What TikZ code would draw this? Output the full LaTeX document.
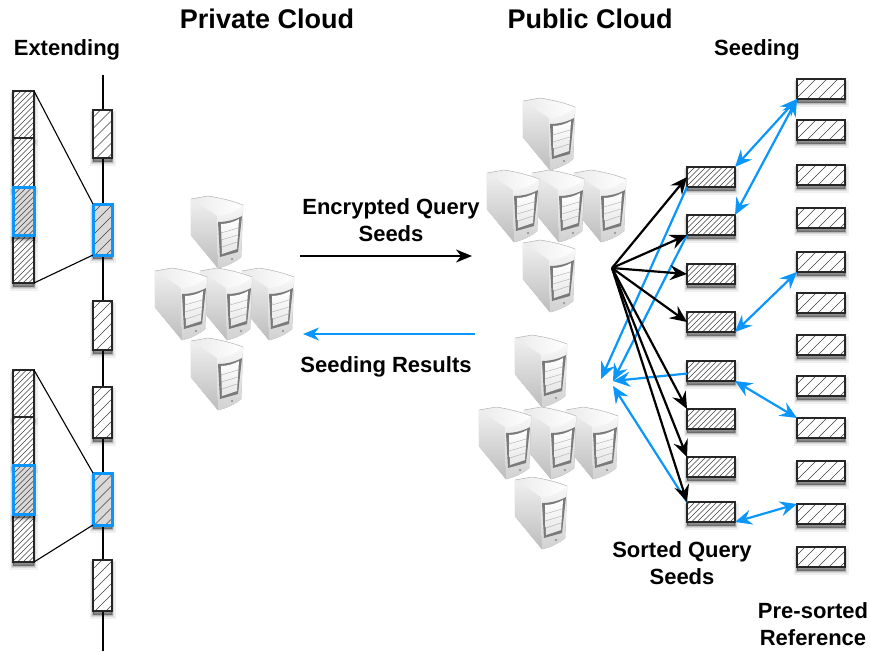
\documentclass[tikz,border=0pt]{standalone}
\usepackage{fontspec}
\setmainfont{Liberation Sans}
\usetikzlibrary{arrows.meta}
\definecolor{bluea}{RGB}{10,150,250}
\tikzset{
  x=1pt,y=-1pt,
  softshadow/.style={
    preaction={draw=black,fill=black,line width=7pt,opacity=.06,transform canvas={yshift=-4pt}},
    preaction={draw=black,fill=black,line width=4.5pt,opacity=.1,transform canvas={yshift=-4pt}},
    preaction={draw=black,fill=black,line width=2.5pt,opacity=.14,transform canvas={yshift=-4pt}},
    preaction={draw=black,fill=black,line width=.5pt,opacity=.18,transform canvas={yshift=-3pt}}},
  hatch/.style={path picture={
    \foreach \d in {-400,-#1,...,400}
      \draw[black!75,line width=.65pt,shift={(path picture bounding box.center)}] (\d pt-250pt,-250pt) -- ++(500pt,500pt);}},
  cell/.style={draw=black!85,line width=1.3pt,inner sep=0pt,outer sep=0pt,anchor=north west,softshadow},
  qbox/.style={cell,fill=white,minimum width=48pt,minimum height=20pt,hatch=394.5},
  rbox/.style={cell,fill=white,minimum width=48pt,minimum height=20pt,hatch=389},
  ebox/.style={cell,fill=white,minimum width=19pt,hatch=389},
  bar/.style={cell,fill=white,minimum width=21pt,hatch=394.5},
  hl/.style={draw=bluea,line width=3pt},
  ln/.style={black,line width=1.1pt},
  tip/.style={-{Stealth[length=17pt,width=15pt,inset=6pt]}},
  barrow/.style={black,line width=2.2pt,tip},
  bluearrow/.style={bluea,line width=2.2pt,tip},
  bluedouble/.style={bluea,line width=2.2pt,{Stealth[length=17pt,width=15pt,inset=6pt]}-{Stealth[length=17pt,width=15pt,inset=6pt]}},
  lab/.style={font=\fontsize{22}{27}\selectfont\bfseries,align=center,inner sep=0pt},
  title/.style={font=\fontsize{27}{30}\selectfont\bfseries,inner sep=0pt},
  server/.pic={
    % body outline and top face
    \shade[left color=black!8,right color=white,draw=black!30,line width=.5pt]
      (0,3) -- (17,0) .. controls (30,2) and (42,5) .. (52,9)
      -- (50,61) .. controls (44,66) and (36,70) .. (27,72) -- (0,39) -- cycle;
    % left face
    \shade[top color=black!6,bottom color=black!26] (0,3) -- (26,20) -- (27,72) -- (0,39) -- cycle;
    % front face
    \shade[top color=black!3,bottom color=black!18] (26,20) .. controls (36,20) and (46,15) .. (52,9)
      -- (50,61) .. controls (44,66) and (36,70) .. (27,72) -- cycle;
    % bezel and screen
    \fill[black!52] (27,26) .. controls (35,26) and (44,24) .. (51,20) -- (47,56) -- (29,61) -- cycle;
    \shade[top color=white,bottom color=black!10] (30,28) .. controls (36,28) and (43,26) .. (48,23) -- (46,53) -- (31,58) -- cycle;
    \draw[black!28,line width=.5pt] (30,37) -- (47,32) (30,44) -- (47,39) (31,51) -- (46,46);
    \fill[black!45] (41,63) circle (1.2);
  }
}
\newcommand{\cluster}[2]{%
  \path (#1+36,#2) pic {server};
  \path (#1+87,#2+72) pic {server};
  \path (#1+45,#2+72) pic {server};
  \path (#1,#2+72) pic {server};
  \path (#1+36,#2+142) pic {server};
}
\begin{document}
\begin{tikzpicture}
\useasboundingbox (0,0) rectangle (870,651);
% titles
\node[title] (tpriv) at (267,19) {Private Cloud};
\node[title] (tpub) at (590,19) {Public Cloud};
\node[lab] (text) at (67,50) {Extending};
\node[lab] (tseed) at (757,50) {Seeding};
\node[lab] (tenc) at (391,220) {Encrypted Query\\Seeds};
\node[lab] (tres) at (386,367) {Seeding Results};
\node[lab] (tsort) at (682,563.5) {Sorted Query\\Seeds};
\node[lab] (tref) at (813,624.5) {Pre-sorted\\Reference};
% extending: spine
\coordinate (s0) at (103,75);
\coordinate (s1) at (103,651);
\draw[ln] (s0) -- (s1);
\node[ebox,minimum height=48pt] (a1) at (93,110) {};
\node[ebox,fill=black!15,hl,minimum height=51pt] (a2) at (93,204) {};
\node[ebox,minimum height=49pt] (a3) at (93,301) {};
\node[ebox,minimum height=51pt] (a4) at (93,387) {};
\node[ebox,fill=black!15,hl,minimum height=52pt] (a5) at (93,473) {};
\node[ebox,minimum height=51pt] (a6) at (93,560) {};
% left bars
\node[bar,minimum height=47pt] (b1) at (13,91) {};
\node[bar,minimum height=49pt] (b2) at (13,138) {};
\node[bar,minimum height=48pt] (b4) at (13,235) {};
\node[bar,fill=black!15,hl,minimum height=48pt] (b3) at (13,187) {};
\node[bar,minimum height=47pt] (c1) at (13,370) {};
\node[bar,minimum height=48pt] (c2) at (13,417) {};
\node[bar,minimum height=48pt] (c4) at (13,514) {};
\node[bar,fill=black!15,hl,minimum height=49pt] (c3) at (13,465) {};
\draw[ln] (b1.north east) -- (a2.north west);
\draw[ln] (b4.south east) -- (a2.south west);
\draw[ln] (c1.north east) -- (a5.north west);
\draw[ln] (c4.south east) -- (a5.south west);
% servers
\cluster{155}{196}
\cluster{487}{98}
\cluster{479}{335}
% main arrows
\coordinate (m1) at (300,256);
\coordinate (m2) at (472,256);
\coordinate (m3) at (475,334);
\coordinate (m4) at (303,334);
\draw[black,line width=2pt,-{Stealth[length=16pt,width=13pt,inset=5pt]}] (m1) -- (m2);
\draw[bluea,line width=2pt,-{Stealth[length=16pt,width=13pt,inset=5pt]}] (m3) -- (m4);
% query boxes
\node[qbox] (q1) at (687,167) {};
\node[qbox] (q2) at (687,215) {};
\node[qbox] (q3) at (687,264) {};
\node[qbox] (q4) at (687,312) {};
\node[qbox] (q5) at (687,361) {};
\node[qbox] (q6) at (687,409) {};
\node[qbox] (q7) at (687,457) {};
\node[qbox] (q8) at (687,502) {};
% reference boxes
\node[rbox] (r1) at (797,79) {};
\node[rbox] (r2) at (797,120) {};
\node[rbox] (r3) at (797,165) {};
\node[rbox] (r4) at (797,208) {};
\node[rbox] (r5) at (797,252) {};
\node[rbox] (r6) at (797,293) {};
\node[rbox] (r7) at (797,335) {};
\node[rbox] (r8) at (797,376) {};
\node[rbox] (r9) at (797,418) {};
\node[rbox] (r10) at (797,461) {};
\node[rbox] (r11) at (797,504) {};
\node[rbox] (r12) at (797,547) {};
% arrow hubs
\coordinate (hub) at (612,268);
\coordinate (sa) at (601,379);
\coordinate (sb) at (613,381);
\coordinate (sc) at (613,386);
% blue returns
\draw[bluearrow] (q1.south west) -- (sa);
\draw[bluearrow] (q2.south west) -- (sb);
\draw[bluearrow] (q5.186) -- (sb);
\draw[bluearrow] (q8.north west) -- (sc);
% black fan
\draw[barrow] (hub) -- (q1.west);
\draw[barrow] (hub) -- (q2.south west);
\draw[barrow] (hub) -- (q3.west);
\draw[barrow] (hub) -- (q4.west);
\draw[barrow] (hub) -- (q6.north west);
\draw[barrow] (hub) -- (q7.north west);
\draw[barrow] (hub) -- (q8.north west);
% blue pairs
\draw[bluedouble] (q1.north east) -- (r1.south west);
\draw[bluedouble] (q2.north east) -- (r1.south west);
\draw[bluedouble] (q4.south east) -- (r5.south west);
\draw[bluedouble] (q5.south east) -- (r9.north west);
\draw[bluedouble] (q8.south east) -- (r11.north west);
\end{tikzpicture}
\end{document}
